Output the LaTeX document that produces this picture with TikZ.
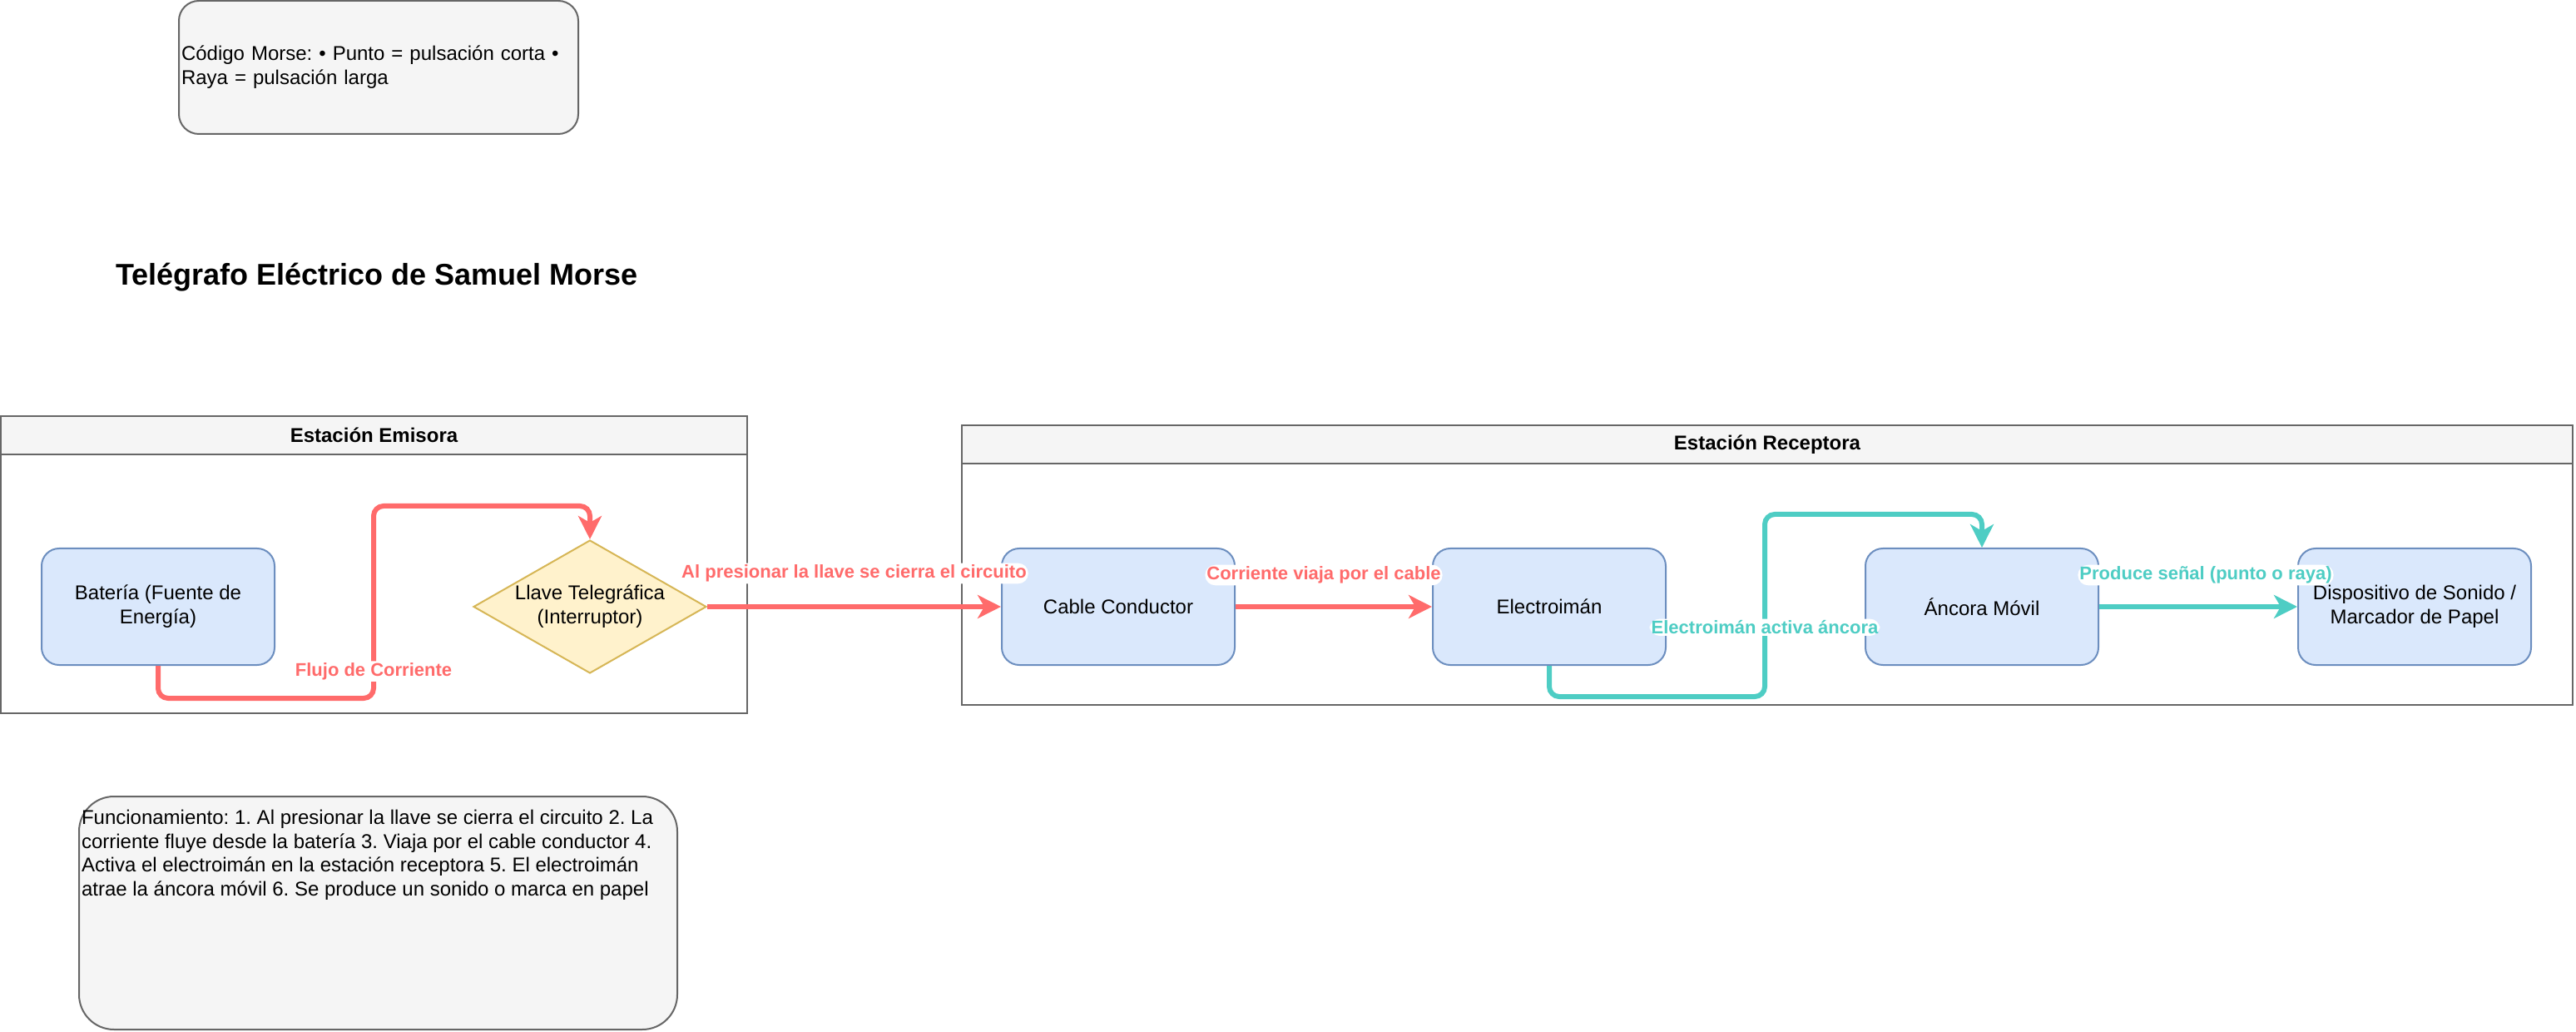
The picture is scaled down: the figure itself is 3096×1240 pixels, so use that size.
\documentclass[tikz,border=0pt]{standalone}
\usepackage{fontspec}
\setmainfont{Liberation Sans}
\usepackage{tikz}
\usetikzlibrary{positioning,shapes.geometric,arrows.meta}
\definecolor{procfill}{HTML}{DAE8FC}
\definecolor{procline}{HTML}{6C8EBF}
\definecolor{keyfill}{HTML}{FFF2CC}
\definecolor{keyline}{HTML}{D6B656}
\definecolor{panelfill}{HTML}{F5F5F5}
\definecolor{panelline}{HTML}{666666}
\definecolor{flowred}{HTML}{FF6B6B}
\definecolor{flowteal}{HTML}{4ECDC4}
\frenchspacing

\begin{document}
\begin{tikzpicture}[x=0.5pt, y=-0.5pt,
procbox/.style={rectangle, draw=procline, fill=procfill, line width=1pt, rounded corners=10.5pt, minimum width=140pt, minimum height=70pt, align=center, font=\fontsize{12}{14.4}\selectfont},
keynode/.style={diamond, draw=keyline, fill=keyfill, line width=1pt, aspect=1.75, inner sep=0pt, minimum width=140pt, minimum height=80pt, align=center, font=\fontsize{12}{14.4}\selectfont},
panelbox/.style={rectangle, draw=panelline, line width=1pt, inner sep=0pt},
panelhead/.style={rectangle, draw=panelline, fill=panelfill, line width=1pt, inner sep=0pt, minimum height=23pt, anchor=north, font=\bfseries\fontsize{12}{14.4}\selectfont},
notebox/.style={rectangle, draw=panelline, fill=panelfill, line width=1pt, inner xsep=1.5pt, align=left, font=\fontsize{12}{14.4}\selectfont},
redflow/.style={draw=flowred, line width=3pt, rounded corners=6pt, -{Stealth[length=14pt, width=14pt, inset=4pt]}},
tealflow/.style={draw=flowteal, line width=3pt, rounded corners=6pt, -{Stealth[length=14pt, width=14pt, inset=4pt]}},
edgelabel/.style={fill=white, inner sep=1pt, font=\bfseries\fontsize{11}{13.2}\selectfont}
]
\useasboundingbox (0,0) rectangle (3096,1240);

\node[notebox, rounded corners=12pt, minimum width=240pt, minimum height=80pt, text width=237pt] (morse) at (455,81)
  {Código Morse: • Punto = pulsación corta •\\ Raya = pulsación larga};
\node[font=\bfseries\fontsize{18}{21.6}\selectfont] (title) at (453,333) {Telégrafo Eléctrico de Samuel Morse};

\node[panelbox, minimum width=448.5pt, minimum height=178.5pt] (emisora) at (449.5,678.5) {};
\node[panelhead, minimum width=448.5pt] (emisorahead) at (emisora.north) {Estación Emisora};
\node[panelbox, minimum width=968pt, minimum height=168pt] (receptora) at (2124,679) {};
\node[panelhead, minimum width=968pt] (receptorahead) at (receptora.north) {Estación Receptora};

\node[procbox] (bat) at (190,729) {Batería (Fuente de\\ Energía)};
\node[keynode] (llave) [right=118.5pt of bat] {Llave Telegráfica\\ (Interruptor)};
\node[procbox] (cable) [right=176.5pt of llave] {Cable Conductor};
\node[procbox] (elec) [right=118pt of cable] {Electroimán};
\node[procbox] (ancora) [right=119pt of elec] {Áncora Móvil};
\node[procbox] (disp) [right=119pt of ancora] {Dispositivo de Sonido /\\ Marcador de Papel};

\coordinate (f1) at (449,839);
\coordinate (f2) at (449,608);
\coordinate (t1) at (2121,837);
\coordinate (t2) at (2121,618);

\draw[redflow] (bat.south) |- (f1) -- node[edgelabel, text=flowred, pos=0.14] {Flujo de Corriente} (f2) -| (llave.north);
\draw[redflow] (llave.east) -- node[edgelabel, text=flowred, midway, yshift=20pt] {Al presionar la llave se cierra el circuito} (cable.west);
\draw[redflow] (cable.east) -- node[edgelabel, text=flowred, midway, xshift=-6pt, yshift=19pt] {Corriente viaja por el cable} (elec.west);
\draw[tealflow] (elec.south) |- (t1) -- node[edgelabel, text=flowteal, pos=0.38] {Electroimán activa áncora} (t2) -| (ancora.north);
\draw[tealflow] (ancora.east) -- node[edgelabel, text=flowteal, midway, xshift=4.5pt, yshift=19pt] {Produce señal (punto o raya)} (disp.west);

\node[notebox, rounded corners=21pt, inner ysep=8pt] (func) at (454.5,1097)
  {\parbox[c][124pt][t]{356.5pt}{\raggedright Funcionamiento: 1. Al presionar la llave se cierra el circuito 2. La\\ corriente fluye desde la batería 3. Viaja por el cable conductor 4.\\ Activa el electroimán en la estación receptora 5. El electroimán\\ atrae la áncora móvil 6. Se produce un sonido o marca en papel}};
\end{tikzpicture}
\end{document}
